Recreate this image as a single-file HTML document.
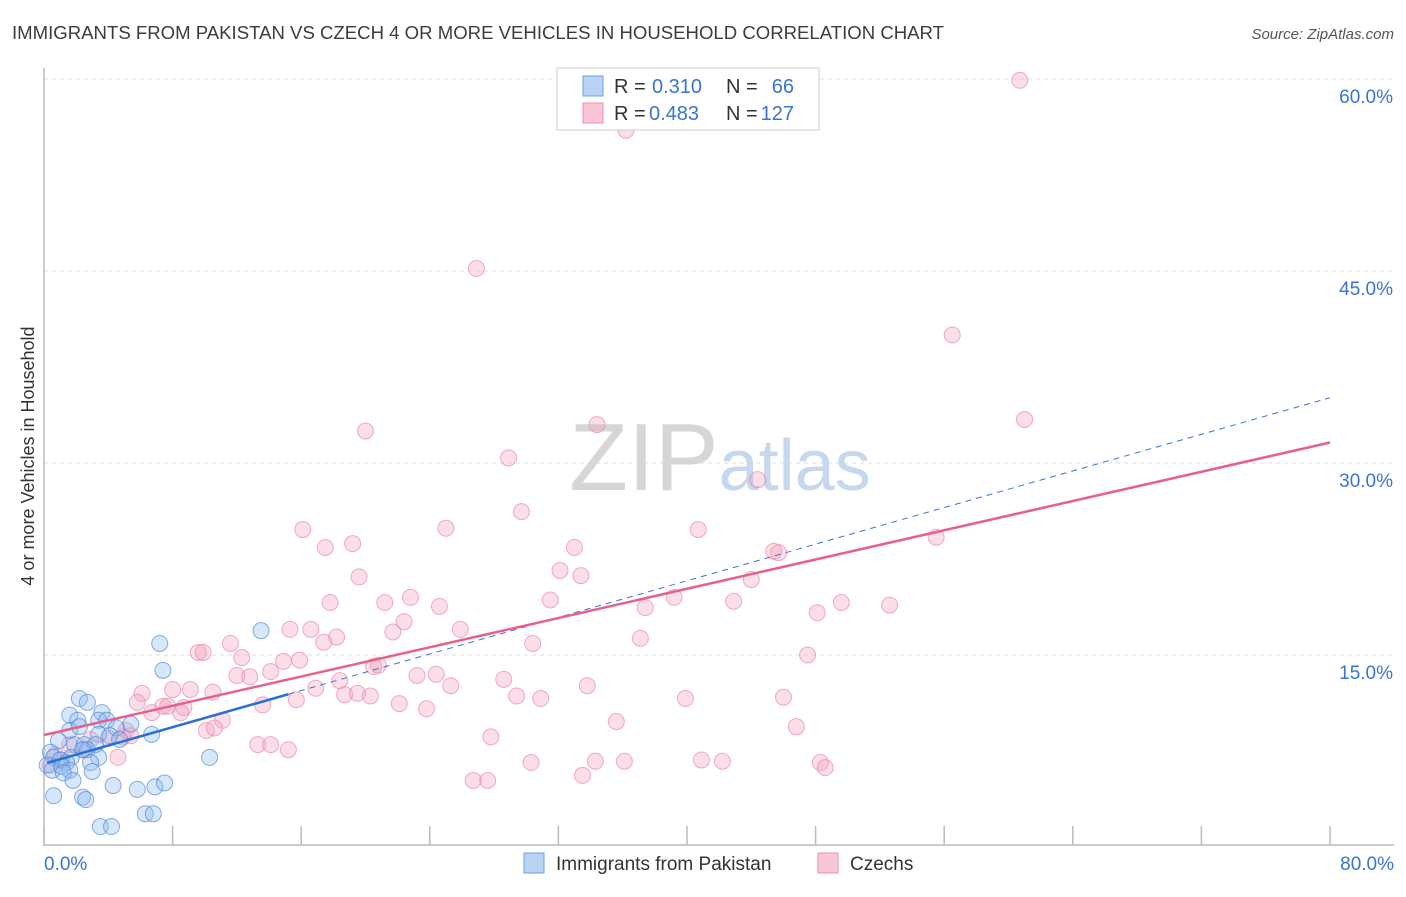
<!DOCTYPE html>
<html><head><meta charset="utf-8"><style>
body{margin:0;background:#fff;font-family:"Liberation Sans",sans-serif;}
svg text{font-family:"Liberation Sans",sans-serif;}
</style></head><body>
<svg id="chart" width="1406" height="892" viewBox="0 0 1406 892" xmlns="http://www.w3.org/2000/svg">
<text x="12" y="39" font-size="18" fill="#3c3c3c" textLength="932" lengthAdjust="spacingAndGlyphs">IMMIGRANTS FROM PAKISTAN VS CZECH 4 OR MORE VEHICLES IN HOUSEHOLD CORRELATION CHART</text>
<text x="1394" y="39" font-size="15" fill="#555" text-anchor="end" font-style="italic">Source: ZipAtlas.com</text>
<text transform="translate(34,456) rotate(-90)" font-size="18" fill="#333" text-anchor="middle">4 or more Vehicles in Household</text>
<g id="grid"></g>
<text x="720" y="490" font-size="96" text-anchor="middle" fill="#d6d6d6" font-family="Liberation Serif,serif">ZIP<tspan fill="#c6d8ee" font-family="Liberation Sans,sans-serif" font-size="72">atlas</tspan></text>
<g id="pts"></g>
<g id="lines"></g>
<g>
<rect x="557" y="68" width="262" height="62" fill="#fff" stroke="#ccc"/>
<rect x="583" y="76" width="20" height="20" fill="#b8d3f5" stroke="#6fa0e0"/>
<rect x="583" y="103" width="20" height="20" fill="#f8c6d5" stroke="#e890ae"/>
<text x="614" y="93" font-size="20" fill="#333">R =</text>
<text x="652" y="93" font-size="20" fill="#3a73d6">0.310</text>
<text x="726" y="93" font-size="20" fill="#333">N =</text>
<text x="794" y="93" font-size="20" fill="#3a73d6" text-anchor="end">66</text>
<text x="614" y="120" font-size="20" fill="#333">R =</text>
<text x="649" y="120" font-size="20" fill="#3a73d6">0.483</text>
<text x="726" y="120" font-size="20" fill="#333">N =</text>
<text x="794" y="120" font-size="20" fill="#3a73d6" text-anchor="end">127</text>
</g>
<g>
<rect x="524" y="853" width="20" height="20" fill="#b8d3f5" stroke="#6fa0e0"/>
<text x="556" y="870" font-size="19" fill="#333">Immigrants from Pakistan</text>
<rect x="818" y="853" width="20" height="20" fill="#f8c6d5" stroke="#e890ae"/>
<text x="850" y="870" font-size="19" fill="#333">Czechs</text>
</g>
</svg>
<script>
const yTicks=[15,30,45,60];
const xTickLabels=["0.0%","80.0%"];
const blueX=[7.2,13.5,7.4,2.2,2.7,1.6,3.6,2.1,3.4,3.9,5.4,1.6,2.2,4.5,6.7,3.4,4.1,1.9,2.5,3.2,2.7,4.7,0.9,1.7,0.4,0.6,1.0,1.4,0.2,0.5,1.1,1.6,3.4,2.9,2.4,10.3,3.0,1.2,1.8,4.3,5.8,6.9,7.5,0.6,2.4,2.6,6.3,6.8,3.5,4.2];
const blueY=[15.9,16.9,13.8,11.6,11.3,10.3,10.5,9.9,9.9,9.9,9.6,9.1,9.4,9.3,8.8,8.8,8.7,8.0,8.0,8.0,7.6,8.4,8.3,7.0,7.4,7.0,6.8,6.6,6.4,6.0,6.3,6.0,7.0,6.6,7.6,7.0,5.9,5.8,5.2,4.8,4.5,4.7,5.0,4.0,3.9,3.7,2.6,2.6,1.6,1.6];
const pinkX=[60.7,36.2,26.9,56.5,61.0,20.0,34.4,28.9,44.4,16.1,25.0,29.7,40.7,55.5,17.5,19.2,33.0,45.4,45.7,19.6,32.1,33.4,44.0,17.8,21.2,22.8,24.6,31.5,39.2,42.9,49.6,52.6,37.4,48.1,22.4,21.7,15.3,16.6,18.2,25.9,17.4,30.4,37.1,11.6,9.6,9.9,12.3,15.9,14.9,47.5,20.8,20.5,14.1,12.0,12.8,23.2,24.4,28.6,18.4,16.9,25.3,33.8,6.1,8.0,9.1,10.5,18.7,19.5,20.3,15.7,29.4,30.9,39.9,46.0,5.8,7.4,7.7,8.7,13.6,22.1,23.8,6.7,8.5,11.1,35.6,46.8,10.1,10.6,5.1,4.9,5.4,2.9,4.0,1.6,13.3,14.1,15.2,27.8,2.5,4.6,30.3,34.3,36.1,40.9,42.2,48.3,48.6,33.5,26.7,27.6,0.7,1.1,0.4];
const pinkY=[59.9,56.0,45.2,40.0,33.4,32.5,33.0,30.4,28.7,24.8,24.9,26.2,24.8,24.2,23.4,23.7,23.4,23.1,23.0,21.1,21.6,21.2,20.9,19.1,19.1,19.5,18.8,19.3,19.5,19.2,19.1,18.9,18.7,18.3,17.6,16.8,17.0,17.0,16.4,17.0,16.0,15.9,16.3,15.9,15.2,15.2,14.8,14.6,14.5,15.0,14.2,14.1,13.7,13.4,13.3,13.4,13.5,13.1,13.0,12.4,12.6,12.6,12.0,12.3,12.3,12.1,11.9,12.0,11.8,11.5,11.8,11.6,11.6,11.7,11.3,11.0,11.0,10.9,11.1,11.2,10.8,10.5,10.5,9.9,9.8,9.4,9.1,9.3,9.1,8.6,8.7,8.4,8.5,8.0,8.0,8.0,7.6,8.6,7.6,7.0,6.6,6.7,6.7,6.8,6.7,6.6,6.2,5.6,5.2,5.2,7.2,6.8,6.4];
const blueTrend=[6.5,35.1];
const pinkTrend=[8.75,31.6];
const NS="http://www.w3.org/2000/svg";
function sx(v){return 44+v/80*1286;}
function sy(v){return 847-v*12.8;}
function mk(tag,attrs,parent){const e=document.createElementNS(NS,tag);for(const k in attrs)e.setAttribute(k,attrs[k]);parent.appendChild(e);return e;}
const grid=document.getElementById('grid');
yTicks.forEach(t=>{
  const l=mk('line',{x1:44,x2:1394,y1:sy(t),y2:sy(t),stroke:'#ddd','stroke-dasharray':'4,4'},grid);
  
  
  const tx=mk('text',{x:1393,y:sy(t)+24,'font-size':19,fill:'#3a73d6','text-anchor':'end'},grid);
  tx.textContent=t.toFixed(1)+'%';
  
  
});
const ax=mk('line',{x1:44,x2:44,y1:68,y2:846,stroke:'#bbb','stroke-width':1.5},grid);


const bx=mk('line',{x1:44,x2:1394,y1:845,y2:845,stroke:'#bbb','stroke-width':1.5},grid);


for(let i=0;i<=10;i++){
  const x=sx(i*8);
  const t=mk('line',{x1:x,x2:x,y1:826,y2:845,stroke:'#bbb','stroke-width':1.5},grid);
  
  
}
[[0,'start',44],[80,'end',1394]].forEach((a,i)=>{
  const tx=mk('text',{x:a[2],y:870,'font-size':19,fill:'#3a73d6','text-anchor':a[1]},grid);
  tx.textContent=xTickLabels[i];
  
  
});
const pts=document.getElementById('pts');
pinkX.forEach((v,i)=>{
  const c=mk('circle',{cx:sx(v),cy:sy(pinkY[i]),r:8,fill:'rgba(244,160,188,0.35)',stroke:'rgba(232,130,165,0.65)','stroke-width':1},pts);
  
  
});
blueX.forEach((v,i)=>{
  const c=mk('circle',{cx:sx(v),cy:sy(blueY[i]),r:8,fill:'rgba(140,185,240,0.35)',stroke:'rgba(70,130,215,0.65)','stroke-width':1},pts);
  
  
});
const lines=document.getElementById('lines');
const bEnd=15.2;
const bAt=v=>blueTrend[0]+(blueTrend[1]-blueTrend[0])*v/80;
const d=mk('line',{x1:sx(bEnd),y1:sy(bAt(bEnd)),x2:sx(80),y2:sy(blueTrend[1]),stroke:'#3a73d6','stroke-width':1,'stroke-dasharray':'6,5'},lines);


const p=mk('line',{x1:sx(0),y1:sy(pinkTrend[0]),x2:sx(80),y2:sy(pinkTrend[1]),stroke:'#e8608a','stroke-width':2.5},lines);


const b=mk('line',{x1:sx(0.2),y1:sy(bAt(0.2)),x2:sx(bEnd),y2:sy(bAt(bEnd)),stroke:'#2a6fd6','stroke-width':2.5},lines);


</script>
</body></html>
